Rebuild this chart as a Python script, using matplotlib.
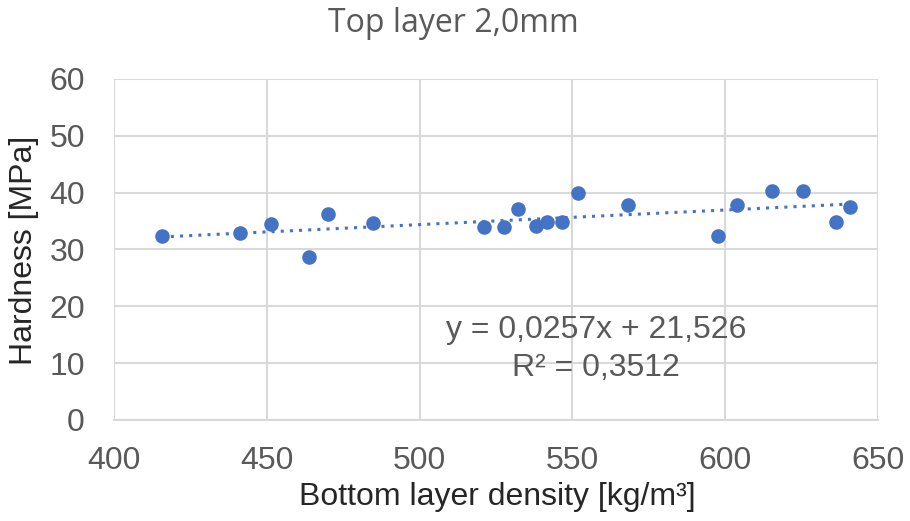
import numpy as np
import matplotlib
matplotlib.use("Agg")
import matplotlib.pyplot as plt

# density [kg/m3] and hardness [MPa]
density = [415.6, 441.2, 451.3, 463.8, 470.1, 484.8, 521.0, 527.6, 532.3, 538.1,
           541.6, 546.5, 551.9, 568.3, 597.5, 604.0, 615.3, 625.4, 636.3, 640.9]
hardness = [32.4, 32.9, 34.4, 28.6, 36.3, 34.6, 33.9, 33.9, 37.1, 34.1,
            34.8, 34.8, 39.9, 37.8, 32.4, 37.8, 40.3, 40.3, 34.8, 37.4]

# trendline as printed on the chart
slope = 0.0257
intercept = 21.526
r2 = 0.3512

x_ticks = [400, 450, 500, 550, 600, 650]
y_ticks = [0, 10, 20, 30, 40, 50, 60]

blue = "#4472C4"
text_gray = "#595959"
grid_gray = "#D9D9D9"
font = ["Liberation Sans", "DejaVu Sans"]

fig = plt.figure(figsize=(9.1, 5.21), dpi=100)
ax = fig.add_axes([0.1253, 0.1939, 0.8396, 0.6545])

xs = np.array([min(density), max(density)])
ax.plot(xs, slope * xs + intercept, linestyle=(0, (1, 2)), color=blue,
        linewidth=2.2, zorder=2)
ax.scatter(density, hardness, s=110, color=blue, zorder=3, linewidths=0)

ax.set_xlim(400, 650)
ax.set_ylim(0, 60)
ax.set_xticks(x_ticks)
ax.set_yticks(y_ticks)
ax.grid(True, color=grid_gray, linewidth=1.5)
ax.set_axisbelow(True)
for side in ["top", "right", "left"]:
    ax.spines[side].set_visible(False)
ax.spines["bottom"].set_color(grid_gray)
ax.spines["bottom"].set_linewidth(1.5)
ax.tick_params(length=0, labelcolor=text_gray)
ax.tick_params(axis="x", pad=19)
ax.tick_params(axis="y", pad=21)
for lab in ax.get_xticklabels() + ax.get_yticklabels():
    lab.set_family(font)
    lab.set_fontsize(23)

fig.text(0.5465, 1 - 497 / 521, "Bottom layer density [kg/m³]", ha="center",
         va="center", fontsize=23, color="#262626", family=font)
fig.text(24 / 910, 1 - 250 / 521, "Hardness [MPa]", ha="center", va="center",
         rotation=90, fontsize=23, color="#262626", family=font)
fig.text(453 / 910, 1 - 32 / 521, "Top layer 2,0mm", ha="center", va="baseline",
         fontsize=23, color=text_gray, family=["Open Sans", "DejaVu Sans"])

eq = f"y = {slope:.4f}x + {intercept:.3f}".replace(".", ",")
r2_txt = f"R² = {r2:.4f}".replace(".", ",")
ax.text(557.7, 15.8, eq, ha="center", va="center", fontsize=23, color=text_gray,
        family=font)
ax.text(557.7, 9.15, r2_txt, ha="center", va="center", fontsize=23, color=text_gray,
        family=font)

fig.savefig("out.png", dpi=100)
